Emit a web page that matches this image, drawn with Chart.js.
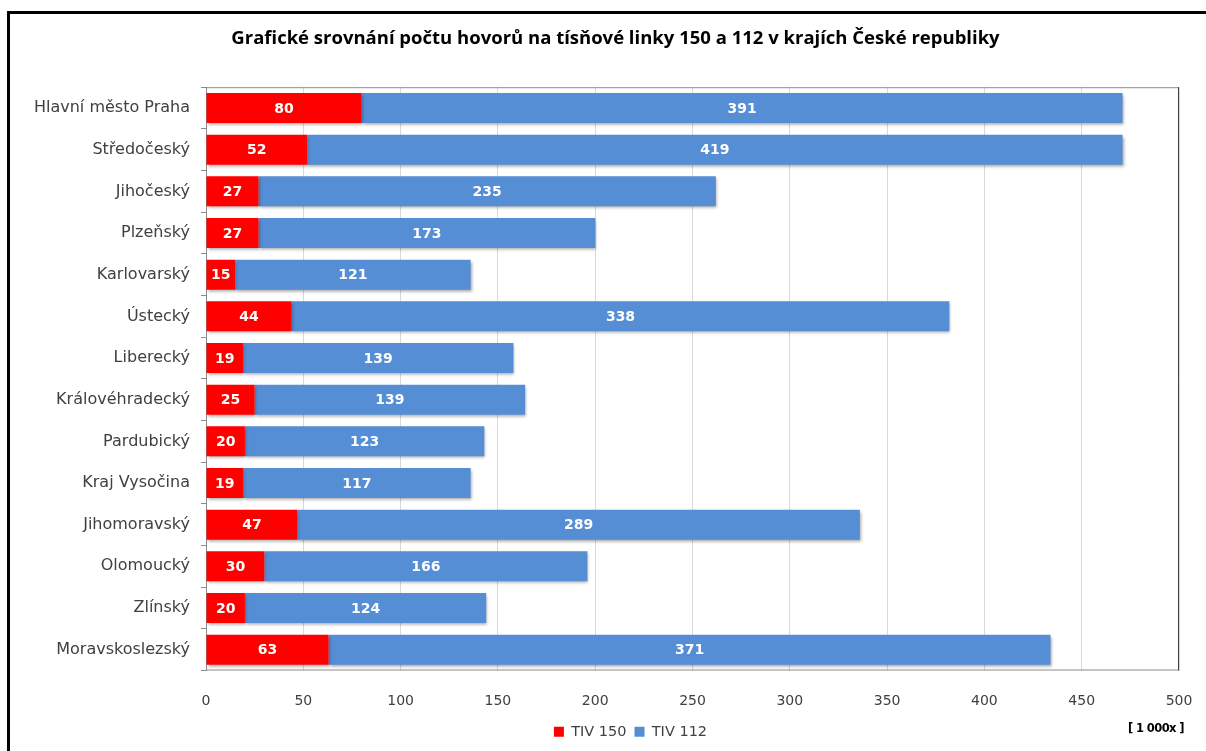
<!DOCTYPE html>
<html>
<head>
<meta charset="utf-8">
<script src="https://cdn.jsdelivr.net/npm/chart.js@4"></script>
<style>
  html, body { margin: 0; padding: 0; background: #fff; overflow: hidden; }
  #wrap { position: relative; width: 1206px; height: 751px; overflow: hidden; }
  #frame { position: absolute; left: 7px; top: 11px; width: 1300px; height: 800px; border: 3px solid #000; box-sizing: border-box; }
  #unit { position: absolute; left: 1128px; top: 721px; font: bold 11.5px "DejaVu Sans", sans-serif; color: #000; letter-spacing: -0.6px; }
  canvas { position: absolute; left: 0; top: 0; }
</style>
</head>
<body>
<div id="wrap">
  <div id="frame"></div>
  <canvas id="chart" width="1206" height="751"></canvas>
  <div id="unit">[ 1 000x ]</div>
</div>
<script>
// Kraje a počty hovorů (v tisících)
const regions = ['Hlavní město Praha', 'Středočeský', 'Jihočeský', 'Plzeňský', 'Karlovarský', 'Ústecký',
  'Liberecký', 'Královéhradecký', 'Pardubický', 'Kraj Vysočina', 'Jihomoravský', 'Olomoucký', 'Zlínský', 'Moravskoslezský'];
const tiv150 = [80, 52, 27, 27, 15, 44, 19, 25, 20, 19, 47, 30, 20, 63];
const tiv112 = [391, 419, 235, 173, 121, 338, 139, 139, 123, 117, 289, 166, 124, 371];
const xTicks = [0, 50, 100, 150, 200, 250, 300, 350, 400, 450, 500];

const fontFamily = '"DejaVu Sans", sans-serif';

// white value labels centred in every bar segment
const barLabels = {
  id: 'barLabels',
  afterDatasetsDraw(chart) {
    const ctx = chart.ctx;
    ctx.save();
    ctx.font = 'bold 14px ' + fontFamily;
    ctx.fillStyle = '#fff';
    ctx.textAlign = 'center';
    ctx.textBaseline = 'middle';
    chart.data.datasets.forEach((ds, i) => {
      chart.getDatasetMeta(i).data.forEach((bar, j) => {
        const x = (bar.x + bar.base) / 2;
        ctx.fillText(ds.data[j], x, bar.y + 1);
      });
    });
    ctx.restore();
  }
};

// light shadow under the bars + plot border
const barShadow = {
  id: 'barShadow',
  beforeDatasetsDraw(chart) {
    const ctx = chart.ctx;
    ctx.save();
    ctx.shadowColor = 'rgba(0,0,0,0.35)';
    ctx.shadowOffsetY = 2;
    ctx.shadowOffsetX = 1;
    ctx.shadowBlur = 3;
  },
  afterDatasetsDraw(chart) {
    chart.ctx.restore();
    const a = chart.chartArea, ctx = chart.ctx;
    ctx.save();
    ctx.lineWidth = 1;
    ctx.strokeStyle = '#8c8c8c';
    ctx.beginPath();
    ctx.moveTo(a.left, a.top + 0.5);
    ctx.lineTo(a.right, a.top + 0.5);
    ctx.moveTo(a.left, a.bottom - 0.5);
    ctx.lineTo(a.right, a.bottom - 0.5);
    ctx.stroke();
    ctx.strokeStyle = '#404040';
    ctx.beginPath();
    ctx.moveTo(a.right - 0.5, a.top);
    ctx.lineTo(a.right - 0.5, a.bottom);
    ctx.stroke();
    ctx.restore();
  }
};

// title and legend sit a little right of the canvas centre
const boxShift = {
  id: 'boxShift',
  afterLayout(chart) {
    const l = chart.legend, t = chart.titleBlock;
    if (l) { l.left += 41; l.right += 41; }
    if (t) { t.left += 26; t.right += 26; }
  }
};

new Chart(document.getElementById('chart'), {
  type: 'bar',
  data: {
    labels: regions,
    datasets: [
      { label: 'TIV 150', data: tiv150, backgroundColor: '#ff0000', barPercentage: 0.72, categoryPercentage: 1 },
      { label: 'TIV 112', data: tiv112, backgroundColor: '#558ed5', barPercentage: 0.72, categoryPercentage: 1 }
    ]
  },
  options: {
    indexAxis: 'y',
    responsive: false,
    animation: false,
    layout: { padding: { left: 0, right: 27, top: 0, bottom: 2 } },
    scales: {
      x: {
        stacked: true,
        min: 0,
        max: 500,
        afterBuildTicks(scale) { scale.ticks = xTicks.map(v => ({ value: v })); },
        grid: { color: '#d9d9d9', drawTicks: false },
        border: { display: false },
        ticks: { padding: 22, color: '#404040', font: { family: fontFamily, size: 14 } },
        afterFit(scale) {
          scale.height = 46;
          scale.paddingLeft = 0;
          scale.paddingRight = 0;
        }
      },
      y: {
        stacked: true,
        grid: { offset: true, drawOnChartArea: false, tickLength: 5, color: '#8c8c8c' },
        border: { color: '#8c8c8c' },
        ticks: { padding: 11, color: '#404040', font: { family: fontFamily, size: 16 } },
        afterFit(scale) { scale.width = 206; }
      }
    },
    plugins: {
      title: {
        display: true,
        text: 'Grafické srovnání počtu hovorů na tísňové linky 150 a 112 v krajích České republiky',
        color: '#000',
        font: { family: '"Open Sans", sans-serif', size: 18.5, weight: 'bold' },
        padding: { top: 28, bottom: 37 }
      },
      legend: {
        position: 'bottom',
        labels: { boxWidth: 10, boxHeight: 10, padding: 8, color: '#404040', font: { family: fontFamily, size: 14.5 } }
      },
      tooltip: { enabled: false }
    }
  },
  plugins: [barShadow, barLabels, boxShift]
});
</script>
</body>
</html>
